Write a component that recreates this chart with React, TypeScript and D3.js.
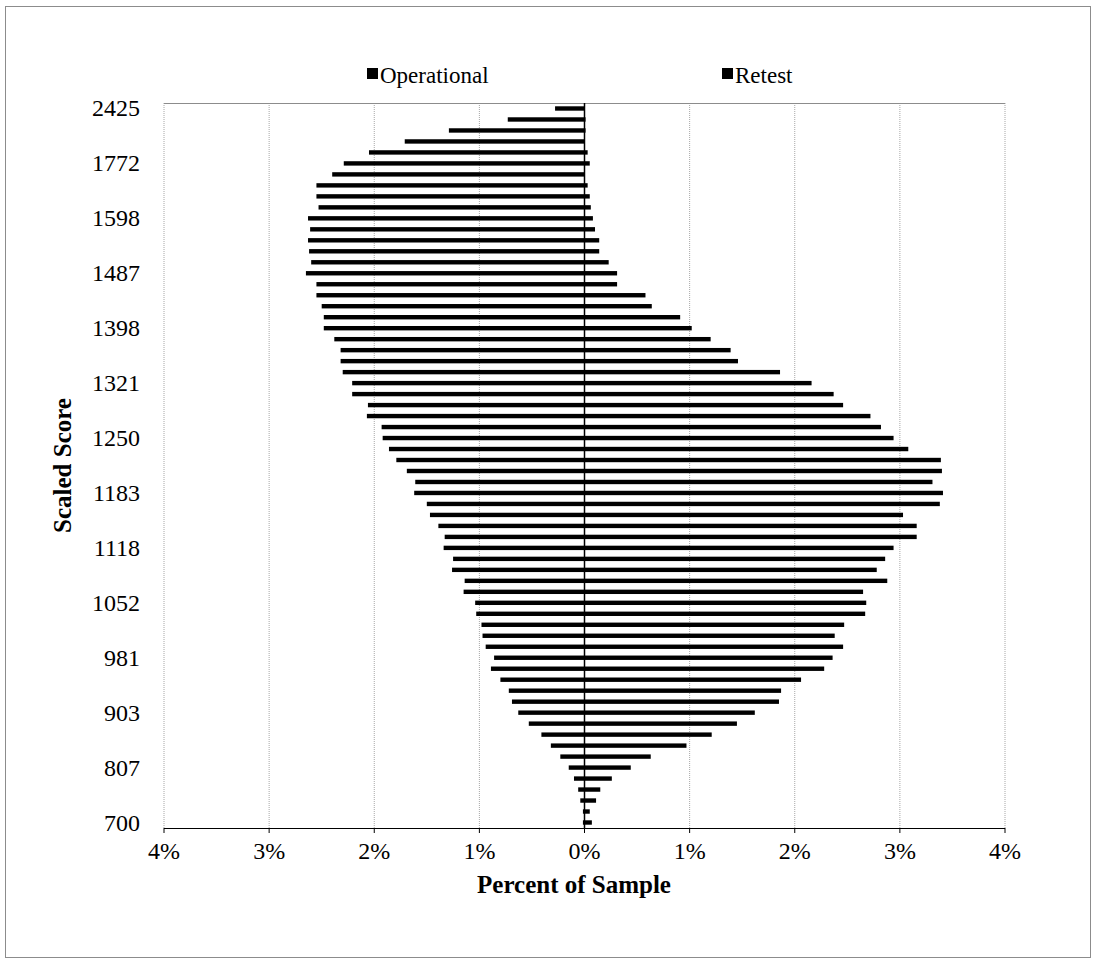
import React from "react";
import * as d3 from "d3";

// Rows top (highest score) to bottom (lowest score); 66 score bins
const tickLabels = ["2425", "1772", "1598", "1487", "1398", "1321", "1250", "1183", "1118", "1052", "981", "903", "807", "700"];
const tickEvery = 5;

const operational = [
  0.28, 0.73, 1.29, 1.71, 2.05, 2.29, 2.40, 2.55, 2.55, 2.53,
  2.63, 2.61, 2.63, 2.62, 2.60, 2.65, 2.55, 2.55, 2.50, 2.48,
  2.48, 2.38, 2.32, 2.32, 2.30, 2.21, 2.21, 2.06, 2.07, 1.93,
  1.92, 1.86, 1.79, 1.69, 1.61, 1.62, 1.50, 1.47, 1.39, 1.33,
  1.34, 1.25, 1.26, 1.14, 1.15, 1.04, 1.03, 0.98, 0.97, 0.94,
  0.86, 0.89, 0.80, 0.72, 0.69, 0.63, 0.53, 0.41, 0.32, 0.23,
  0.15, 0.10, 0.06, 0.04, 0.015, 0.015,
];

const retest = [
  0.0, 0.01, 0.01, 0.0, 0.03, 0.05, 0.0, 0.03, 0.05, 0.06,
  0.08, 0.10, 0.14, 0.14, 0.23, 0.31, 0.31, 0.58, 0.64, 0.91,
  1.02, 1.20, 1.39, 1.46, 1.86, 2.16, 2.37, 2.46, 2.72, 2.82,
  2.94, 3.08, 3.39, 3.40, 3.31, 3.41, 3.38, 3.03, 3.16, 3.16,
  2.94, 2.86, 2.78, 2.88, 2.65, 2.68, 2.67, 2.47, 2.38, 2.46,
  2.36, 2.28, 2.06, 1.87, 1.85, 1.62, 1.45, 1.21, 0.97, 0.63,
  0.44, 0.26, 0.15, 0.11, 0.05, 0.07,
];

const xTicks = [-4, -3, -2, -1, 0, 1, 2, 3, 4];
const seriesNames = ["Operational", "Retest"];

const W = 1096;
const H = 964;
const FONT = "'Liberation Serif', 'Times New Roman', serif";

export default function App() {
  const left = 164, right = 1005, top = 103, bottom = 828;
  const x = d3.scaleLinear().domain([-4, 4]).range([left, right]);
  const rows = d3.range(operational.length);
  const y = d3.scaleBand<number>().domain(rows).range([top, bottom]).paddingInner(0.6).paddingOuter(0.3);
  const bh = y.bandwidth();
  const x0 = x(0);

  return (
    <svg width={W} height={H} style={{ position: "absolute", left: 0, top: 0, background: "#fff" }} fontFamily={FONT}>
      <rect x={5.5} y={6.5} width={1085} height={951} fill="#fff" stroke="#8c8c8c" strokeWidth={1} />
      {/* gridlines */}
      {xTicks.filter((t) => t !== 0).map((t) => (
        <line key={"g" + t} x1={x(t)} x2={x(t)} y1={top} y2={bottom} stroke="#a6a6a6" strokeWidth={1} strokeDasharray="1,1" />
      ))}
      <line x1={left} x2={right} y1={top + 0.5} y2={top + 0.5} stroke="#8c8c8c" strokeWidth={1} />
      {/* bars */}
      {rows.map((i) => (
        <g key={"r" + i}>
          <rect x={x(-operational[i])} y={y(i)} width={x0 - x(-operational[i])} height={bh} fill="#000" />
          <rect x={x0} y={y(i)} width={x(retest[i]) - x0} height={bh} fill="#000" />
        </g>
      ))}
      {/* axes */}
      <line x1={x0} x2={x0} y1={top} y2={bottom} stroke="#000" strokeWidth={1.5} />
      <line x1={left} x2={right} y1={bottom + 0.5} y2={bottom + 0.5} stroke="#000" strokeWidth={1} />
      {xTicks.map((t) => (
        <g key={"t" + t}>
          <line x1={x(t)} x2={x(t)} y1={bottom} y2={bottom + 5} stroke="#000" />
          <text x={x(t)} y={bottom + 31} textAnchor="middle" fontSize={24}>
            {Math.abs(t) + "%"}
          </text>
        </g>
      ))}
      {tickLabels.map((lab, k) => {
        const i = k * tickEvery;
        return (
          <text key={"y" + lab} x={140} y={(y(i) as number) + bh / 2} textAnchor="end" dominantBaseline="central" fontSize={24}>
            {lab}
          </text>
        );
      })}
      <text x={574} y={893} textAnchor="middle" fontSize={25} fontWeight="bold">Percent of Sample</text>
      <text transform={`translate(62,${(top + bottom) / 2}) rotate(-90)`} textAnchor="middle" dominantBaseline="central" fontSize={25} fontWeight="bold">
        Scaled Score
      </text>
      {/* legend */}
      {seriesNames.map((n, k) => {
        const lx = k === 0 ? 367 : 722;
        return (
          <g key={n}>
            <rect x={lx} y={68} width={11} height={11} fill="#000" />
            <text x={lx + 13} y={75} dominantBaseline="central" fontSize={23}>{n}</text>
          </g>
        );
      })}
    </svg>
  );
}
